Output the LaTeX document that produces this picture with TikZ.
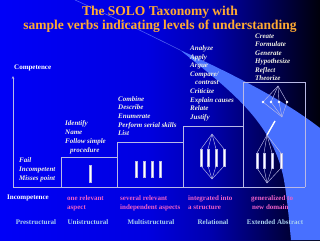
\documentclass[tikz,border=0pt]{standalone}
\usepackage{fontspec}
\setmainfont{Liberation Serif}
\usetikzlibrary{arrows.meta}
\pgfdeclarehorizontalshading{bgshade}{100bp}{rgb(0bp)=(0,0,0.97); rgb(25bp)=(0,0,0.97); rgb(48bp)=(0,0,0.88); rgb(58bp)=(0,0,0.68); rgb(66bp)=(0,0,0.38); rgb(75bp)=(0,0,0.04); rgb(100bp)=(0,0,0.04)}
\definecolor{titleorange}{RGB}{255,170,50}
\definecolor{verbcol}{RGB}{240,240,228}
\definecolor{pinkcol}{RGB}{238,96,200}
\definecolor{levelcol}{RGB}{170,210,240}
\definecolor{linecol}{RGB}{185,185,230}
\definecolor{beamcol}{RGB}{72,112,255}
\begin{document}
\begin{tikzpicture}[x=1pt,y=-1pt,
  boxline/.style={draw=linecol,line width=0.6pt},
  thinline/.style={draw=linecol,line width=0.45pt},
  bar/.style={fill=white,draw=linecol,line width=0.2pt},
  verb/.style={font=\fontsize{7}{8}\selectfont\bfseries\itshape,text=verbcol,inner sep=0pt,anchor=base west},
  lbl/.style={font=\fontsize{7}{8}\selectfont\bfseries,inner sep=0pt},
  pinklbl/.style={lbl,text=pinkcol,anchor=base west},
  levellbl/.style={lbl,text=levelcol,anchor=base},
  titletext/.style={font=\fontsize{13.5}{15}\selectfont\bfseries,text=titleorange,inner sep=0pt,anchor=base}]
\shade[shading=bgshade] (0,0) rectangle (320,240);
\useasboundingbox (0,0) rectangle (320,240);
% light beam
\fill[beamcol] (180,50) .. controls (250,82) and (290,105) .. (320,128) -- (320,240) -- (291,240) .. controls (289,220) and (287,195) .. (283,175) .. controls (270,120) and (230,90) .. (180,50) -- cycle;
\draw[draw=beamcol!70!white,opacity=0.6,line width=0.6pt] (75,0) .. controls (115,18) and (150,35) .. (180,50);
% title
\node[titletext] (t1) at (160,16) {The SOLO Taxonomy with};
\node[titletext] (t2) at (160,29.3) {sample verbs indicating levels of understanding};
% axes
\coordinate (origin) at (13,187);
\coordinate (ytop) at (13,76);
\coordinate (xend) at (305,187);
\draw[boxline,-{Stealth[length=3pt,width=2.5pt]}] (origin) -- (ytop);
\draw[boxline] (origin) -- (xend);
\node[lbl,text=white,anchor=base west] (comp) at (14,69.5) {Competence};
\node[lbl,text=white,anchor=base west] (incomp) at (7,199.5) {Incompetence};
% steps
\draw[boxline] (61,187) -- (61,157) -- (117,157);
\draw[boxline] (117,187) -- (117,142) -- (183,142);
\draw[boxline] (183,187) -- (183,126) -- (243,126);
\draw[boxline] (243,187) -- (243,82) -- (305,82) -- (305,187);
% unistructural
\fill[bar] (88.6,165) rectangle (91.4,182);
% multistructural
\foreach \x in {136,144,152,160} \fill[bar] (\x-1.4,161) rectangle (\x+1.4,177);
% relational
\coordinate (ra) at (212,134);
\coordinate (rb) at (212,179);
\foreach \x in {201,208,216,224} {
  \draw[thinline] (ra) -- (\x,149);
  \draw[thinline] (\x,166) -- (rb);
}
\foreach \x in {201,208,216,224} \fill[bar] (\x-1.4,149) rectangle (\x+1.4,166);
% extended abstract
\coordinate (ea) at (278,86);
\coordinate (eb) at (282,117);
\foreach \x in {263,271,279,287} {
  \draw[thinline] (ea) -- (\x,102);
  \draw[thinline] (\x,102) -- (eb);
}
\foreach \x in {263,271,279,287} \fill[white] (\x,102) circle (1.4);
\coordinate (la) at (267,135);
\coordinate (lb) at (267,183);
\draw[white,line width=1.4pt] (275,121) -- (la);
\foreach \x in {257,264,272,281} {
  \draw[thinline] (la) -- (\x,153);
  \draw[thinline] (\x,168) -- (lb);
}
\foreach \x in {257,264,272,281} \fill[bar] (\x-1.4,153) rectangle (\x+1.4,168);
% verbs: prestructural
\node[verb] (p1) at (19,162.5) {Fail};
\node[verb] (p2) at (19,171.5) {Incompetent};
\node[verb] (p3) at (19,180.5) {Misses point};
% unistructural
\node[verb] (u1) at (65,125.5) {Identify};
\node[verb] (u2) at (65,134.5) {Name};
\node[verb] (u3) at (65,143.2) {Follow simple};
\node[verb] (u4) at (70,152) {procedure};
% multistructural
\node[verb] (m1) at (118,101.5) {Combine};
\node[verb] (m2) at (118,110) {Describe};
\node[verb] (m3) at (118,118.5) {Enumerate};
\node[verb] (m4) at (118,127) {Perform serial skills};
\node[verb] (m5) at (118,135.5) {List};
% relational
\node[verb] (r1) at (190,50.5) {Analyze};
\node[verb] (r2) at (190,59.1) {Apply};
\node[verb] (r3) at (190,67.7) {Argue};
\node[verb] (r4) at (190,76.3) {Compare/};
\node[verb] (r5) at (195,84.9) {contrast};
\node[verb] (r6) at (190,93.5) {Criticize};
\node[verb] (r7) at (190,102.1) {Explain causes};
\node[verb] (r8) at (190,110.7) {Relate};
\node[verb] (r9) at (190,119.3) {Justify};
% extended abstract
\node[verb] (e1) at (255,38.5) {Create};
\node[verb] (e2) at (255,46.9) {Formulate};
\node[verb] (e3) at (255,55.3) {Generate};
\node[verb] (e4) at (255,63.7) {Hypothesize};
\node[verb] (e5) at (255,72.1) {Reflect};
\node[verb] (e6) at (255,80.5) {Theorize};
% descriptions
\node[pinklbl] (d1a) at (67,200.5) {one relevant};
\node[pinklbl] (d1b) at (67,209.5) {aspect};
\node[pinklbl] (d2a) at (120,200.5) {several relevant};
\node[pinklbl] (d2b) at (120,209.5) {independent aspects};
\node[pinklbl] (d3a) at (188,200.5) {integrated into};
\node[pinklbl] (d3b) at (188,209.5) {a structure};
\node[pinklbl] (d4a) at (251,200.5) {generalized to};
\node[pinklbl] (d4b) at (252,209.5) {new domain};
% level names
\node[levellbl] (l1) at (36,224.5) {Prestructural};
\node[levellbl] (l2) at (88,224.5) {Unistructural};
\node[levellbl] (l3) at (151,224.5) {Multistructural};
\node[levellbl] (l4) at (213,224.5) {Relational};
\node[levellbl] (l5) at (275,224.5) {Extended Abstract};
\end{tikzpicture}
\end{document}
